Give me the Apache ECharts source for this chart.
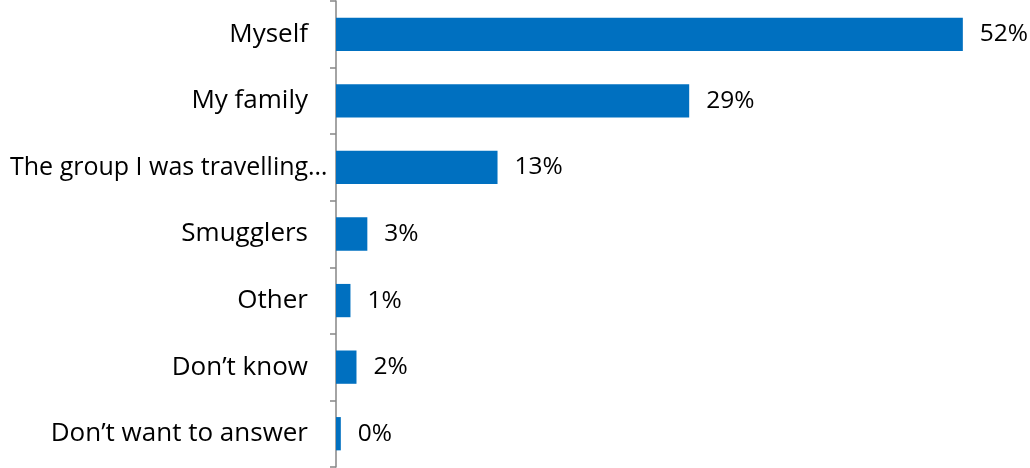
<!DOCTYPE html>
<html><head><meta charset="utf-8">
<script src="https://cdn.jsdelivr.net/npm/echarts@6/dist/echarts.min.js"></script>
<style>html,body{margin:0;padding:0;background:#fff}#c{width:1030px;height:468px}</style>
</head><body><div id="c"></div>
<script>
const categories = ["Myself","My family","The group I was travelling…","Smugglers","Other","Don’t know","Don’t want to answer"];
const values = [52, 29.3, 13.4, 2.6, 1.2, 1.7, 0.4];
const chart = echarts.init(document.getElementById('c'));
const font = '"Open Sans", sans-serif';
chart.setOption({
  animation:false,
  grid:{left:336, right:31, top:1, bottom:1, containLabel:false},
  xAxis:{type:'value', min:0, max:55, show:false},
  yAxis:{type:'category', data:categories, inverse:true,
    axisLine:{show:true, lineStyle:{color:'#868686', width:1.5}},
    axisTick:{show:true, length:6, lineStyle:{color:'#868686', width:1.5}},
    axisLabel:{margin:28, color:'#000', fontSize:26, fontFamily:font,
      formatter:(v,i)=> i===2 ? '{g|'+v+'}' : v,
      rich:{g:{fontSize:25, fontFamily:font, color:'#000', width:298, align:'left', overflow:'none'}}}},
  series:[{type:'bar', data:values, barWidth:'50%',
    itemStyle:{color:'#0070C0'},
    label:{show:true, position:'right', distance:17, color:'#000', fontSize:24.5, fontFamily:font,
      formatter:p=>Math.round(p.value)+'%'}}]
});
</script></body></html>
